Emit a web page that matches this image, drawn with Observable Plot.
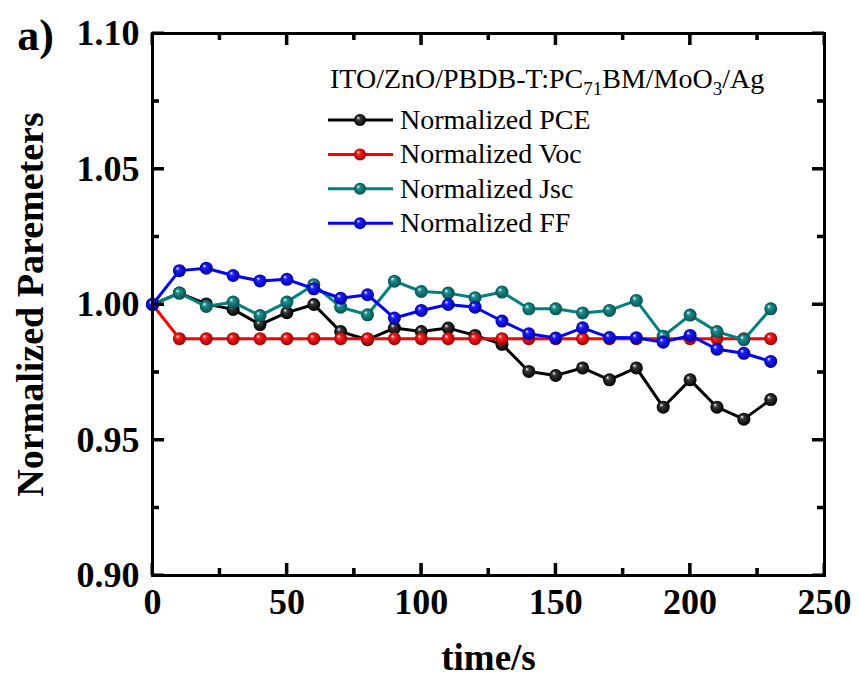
<!DOCTYPE html>
<html><head><meta charset="utf-8">
<script src="https://cdn.jsdelivr.net/npm/d3@7"></script>
<script src="https://cdn.jsdelivr.net/npm/@observablehq/plot@0.6"></script>
<style>html,body{margin:0;padding:0;background:#fff;}</style>
</head><body><div id="chart"></div>
<script>
const time = [0,10,20,30,40,50,60,70,80,90,100,110,120,130,140,150,160,170,180,190,200,210,220,230];
const pce = [1.000,1.0042,1.0002,0.9982,0.9926,0.9970,1.0000,0.9900,0.9870,0.9913,0.9900,0.9913,0.9886,0.9853,0.9753,0.9738,0.9766,0.9722,0.9766,0.9621,0.9722,0.9621,0.9577,0.9649];
const voc = [1.000,0.9874,0.9874,0.9874,0.9874,0.9874,0.9874,0.9874,0.9874,0.9874,0.9874,0.9874,0.9874,0.9874,0.9874,0.9874,0.9874,0.9874,0.9874,0.9874,0.9874,0.9874,0.9874,0.9874];
const jsc = [1.000,1.0042,0.9993,1.0009,0.9959,1.0009,1.0073,0.9990,0.9962,1.0086,1.0048,1.0042,1.0025,1.0046,0.9984,0.9984,0.9969,0.9978,1.0015,0.9883,0.9961,0.9900,0.9870,0.9984];
const ff  = [1.000,1.0125,1.0134,1.0107,1.0087,1.0093,1.0058,1.0023,1.0036,0.9950,0.9978,1.0000,0.9990,0.9939,0.9892,0.9876,0.9914,0.9878,0.9877,0.9861,0.9886,0.9835,0.9820,0.9790];
const seriesNames = ["Normalized PCE","Normalized Voc","Normalized Jsc","Normalized FF"];
const seriesColors = ["#000000","#ff0000","#008080","#0000ff"];
const xMajor = [0,50,100,150,200,250];
const xMinor = [25,75,125,175,225];
const yMajor = [0.90,0.95,1.00,1.05,1.10];
const yMinor = [0.925,0.975,1.025,1.075];
const xTitle = "time/s";
const yTitle = "Normalized Paremeters";
const panelLabel = "a)";
const deviceParts = [["ITO/ZnO/PBDB-T:PC",false],["71",true],["BM/MoO",false],["3",true],["/Ag",false]];

const serif = "'Liberation Serif','Times New Roman',serif";
const series = [pce, voc, jsc, ff];

const W = 861, H = 677, mL = 152, mR = 37, mT = 33, mB = 102;
const frameW = W - mL - mR, frameH = H - mT - mB;

const marks = [];
marks.push(Plot.axisX(xMajor, {anchor: "bottom", tickSize: 0, tickPadding: 13, tickFormat: d => String(d), fontSize: 36, fontWeight: "bold", fontFamily: serif, fill: "#000", label: null}));
marks.push(Plot.axisY(yMajor, {anchor: "left", tickSize: 0, tickPadding: 13, tickFormat: d => d.toFixed(2), fontSize: 36, fontWeight: "bold", fontFamily: serif, fill: "#000", label: null}));

series.forEach((vals, i) => {
  const rows = time.map((t, j) => ({t, v: vals[j]}));
  marks.push(Plot.line(rows, {x: "t", y: "v", stroke: seriesColors[i], strokeWidth: 3}));
  marks.push(Plot.dot(rows, {x: "t", y: "v", r: 6.5, fill: seriesColors[i], stroke: "none", className: "ball-" + i}));
});
marks.push(Plot.frame({stroke: "#000", strokeWidth: 3}));
// inward ticks on all four sides, drawn on top of the frame
for (const [ticks, len] of [[xMajor, 12], [xMinor, 7]]) {
  marks.push(Plot.ruleX(ticks, {x: d => d, insetTop: frameH - len, stroke: "#000", strokeWidth: 3}));
  marks.push(Plot.ruleX(ticks, {x: d => d, insetBottom: frameH - len, stroke: "#000", strokeWidth: 3}));
}
for (const [ticks, len] of [[yMajor, 12], [yMinor, 7]]) {
  marks.push(Plot.ruleY(ticks, {y: d => d, insetRight: frameW - len, stroke: "#000", strokeWidth: 3}));
  marks.push(Plot.ruleY(ticks, {y: d => d, insetLeft: frameW - len, stroke: "#000", strokeWidth: 3}));
}
marks.push(Plot.text([yTitle], {frameAnchor: "left", text: d => d, rotate: -90, dx: -122, textAnchor: "middle", lineAnchor: "middle", fontSize: 38, fontWeight: "bold", fontFamily: serif, fill: "#000"}));
marks.push(Plot.text([xTitle], {frameAnchor: "bottom", text: d => d, dy: 83, textAnchor: "middle", lineAnchor: "middle", fontSize: 37, fontWeight: "bold", fontFamily: serif, fill: "#000"}));
marks.push(Plot.text([panelLabel], {frameAnchor: "top-left", text: d => d, dx: -117, dy: 2, textAnchor: "middle", lineAnchor: "middle", fontSize: 44, fontWeight: "bold", fontFamily: serif, fill: "#000"}));

const plot = Plot.plot({
  width: W, height: H,
  marginLeft: mL, marginRight: mR, marginTop: mT, marginBottom: mB,
  x: {domain: [0, 250]},
  y: {domain: [0.90, 1.10]},
  style: {fontFamily: serif, background: "#fff", color: "#000"},
  marks
});

const svg = d3.select(plot);
const defs = svg.insert("defs", ":first-child");
seriesColors.forEach((c, i) => {
  const g = defs.append("radialGradient").attr("id", "ballgrad" + i)
    .attr("cx", "50%").attr("cy", "50%").attr("r", "50%").attr("fx", "33%").attr("fy", "30%");
  const base = d3.color(c);
  const mid = i === 0 ? "#3a3a3a" : d3.interpolateRgb(c, "#fff")(0.12);
  const edge = i === 0 ? "#000" : base.darker(1.3).formatHex();
  g.append("stop").attr("offset", "0%").attr("stop-color", "#fff");
  g.append("stop").attr("offset", "30%").attr("stop-color", mid);
  g.append("stop").attr("offset", "100%").attr("stop-color", edge);
});
seriesColors.forEach((c, i) => {
  svg.selectAll("g.ball-" + i).attr("fill", `url(#ballgrad${i})`);
  svg.selectAll("g.ball-" + i + " circle").attr("fill", null);
});

// extra tick layer from Plot's own scales, appended on top
const xs = plot.scale("x"), ys = plot.scale("y");
const tg = svg.append("g").attr("stroke", "#000").attr("stroke-width", 3).attr("fill", "none").style("stroke", "#000");
for (const [ticks, len] of [[xMajor, 12], [xMinor, 7]]) {
  ticks.forEach(t => {
    const px = xs.apply(t);
    tg.append("path").attr("d", `M${px},${H - mB}V${H - mB - len}`);
    tg.append("path").attr("d", `M${px},${mT}V${mT + len}`);
  });
}
for (const [ticks, len] of [[yMajor, 12], [yMinor, 7]]) {
  ticks.forEach(t => {
    const py = ys.apply(t);
    tg.append("path").attr("d", `M${mL},${py}H${mL + len}`);
    tg.append("path").attr("d", `M${W - mR},${py}H${W - mR - len}`);
  });
}

// legend
const lg = svg.append("g").attr("font-family", serif).attr("font-size", 28).attr("fill", "#000").attr("text-anchor", "start");
const title = lg.append("text").attr("x", 330).attr("y", 88);
deviceParts.forEach(([s, sub], k) => {
  const prevSub = k > 0 && deviceParts[k - 1][1];
  const ts = title.append("tspan").text(s);
  if (sub) ts.attr("font-size", 19).attr("dy", 7);
  else if (prevSub) ts.attr("dy", -7);
});
seriesNames.forEach((n, i) => {
  const cy = 120 + i * 34.4;
  lg.append("line").attr("x1", 328).attr("x2", 393).attr("y1", cy).attr("y2", cy)
    .attr("stroke", seriesColors[i]).attr("stroke-width", 3);
  lg.append("circle").attr("cx", 360).attr("cy", cy).attr("r", 6).attr("fill", `url(#ballgrad${i})`);
  lg.append("text").attr("x", 400).attr("y", cy + 9).text(n);
});

document.getElementById("chart").appendChild(plot);
</script>
</body></html>
